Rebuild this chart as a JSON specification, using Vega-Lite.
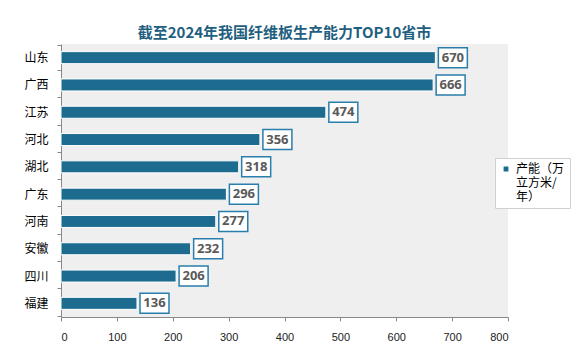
{
  "$schema": "https://vega.github.io/schema/vega-lite/v6.json",
  "width": 447,
  "height": 273,
  "autosize": "none",
  "padding": {"left": 61, "top": 44, "right": 78, "bottom": 47},
  "background": "white",
  "title": {
    "text": "截至2024年我国纤维板生产能力TOP10省市",
    "font": "Noto Sans CJK SC",
    "fontSize": 15,
    "fontWeight": "bold",
    "color": "#1f5f80",
    "anchor": "middle",
    "offset": -3
  },
  "config": {
    "view": {"stroke": null, "fill": "#efefef"},
    "font": "Noto Sans CJK SC"
  },
  "data": {
    "values": [
      {"province": "山东", "value": 670},
      {"province": "广西", "value": 666},
      {"province": "江苏", "value": 474},
      {"province": "河北", "value": 356},
      {"province": "湖北", "value": 318},
      {"province": "广东", "value": 296},
      {"province": "河南", "value": 277},
      {"province": "安徽", "value": 232},
      {"province": "四川", "value": 206},
      {"province": "福建", "value": 136}
    ]
  },
  "encoding": {
    "y": {
      "field": "province",
      "type": "nominal",
      "sort": null,
      "title": null,
      "axis": {
        "domainColor": "#888888",
        "tickColor": "#888888",
        "tickSize": 4,
        "tickBand": "extent",
        "labelFontSize": 12,
        "labelColor": "#000000",
        "labelPadding": 9,
        "labelFont": "Noto Sans CJK SC"
      }
    }
  },
  "layer": [
    {
      "mark": {"type": "bar", "height": 12, "stroke": "white", "strokeWidth": 1},
      "encoding": {
        "x": {
          "field": "value",
          "type": "quantitative",
          "scale": {"domain": [0, 800]},
          "title": null,
          "axis": {
            "values": [0, 100, 200, 300, 400, 500, 600, 700, 800],
            "grid": false,
            "domainColor": "#888888",
            "tickColor": "#888888",
            "tickSize": 4,
            "labelFontSize": 11,
            "labelColor": "#222222",
            "labelPadding": 10,
            "labelFont": "Liberation Sans"
          }
        },
        "color": {
          "datum": "产能（万立方米/年）",
          "scale": {"range": ["#1d6c8f"]},
          "legend": {
            "title": null,
            "orient": "none",
            "legendX": 434,
            "legendY": 114,
            "symbolType": "square",
            "symbolSize": 40,
            "labelFontSize": 12,
            "labelColor": "#000000",
            "labelFont": "Noto Sans CJK SC",
            "labelExpr": "['产能（万', '立方米/', '年）']",
            "labelLimit": 200,
            "labelOffset": 4,
            "strokeColor": "#d0d0d0",
            "fillColor": "white",
            "padding": 5,
            "encode": {
              "labels": {"update": {"lineHeight": {"value": 15}, "baseline": {"value": "top"}, "dy": {"value": -7}}}
            }
          }
        }
      }
    },
    {
      "mark": {
        "type": "bar",
        "height": 20,
        "fill": "white",
        "stroke": "#2a7eab",
        "strokeWidth": 1.5,
        "xOffset": 3,
        "x2Offset": 32
      },
      "encoding": {
        "x": {"field": "value", "type": "quantitative"},
        "x2": {"field": "value"}
      }
    },
    {
      "mark": {
        "type": "text",
        "dx": 17.5,
        "align": "center",
        "baseline": "middle",
        "fontWeight": "bold",
        "fontSize": 13,
        "color": "#595959",
        "font": "Open Sans"
      },
      "encoding": {
        "x": {"field": "value", "type": "quantitative"},
        "text": {"field": "value"}
      }
    }
  ]
}
